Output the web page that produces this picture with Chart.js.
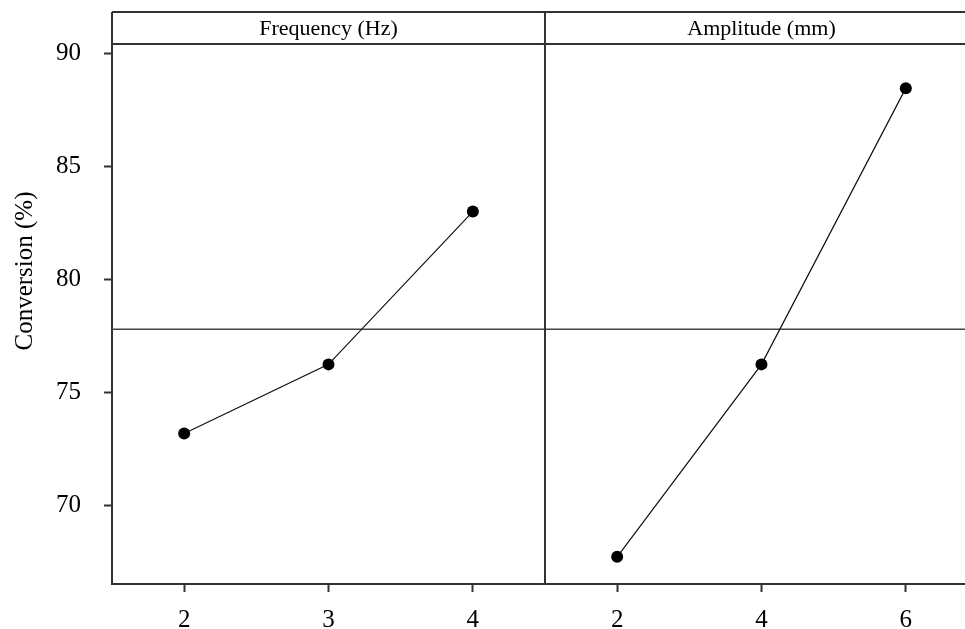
<!DOCTYPE html>
<html>
<head>
<meta charset="utf-8">
<script src="https://cdn.jsdelivr.net/npm/chart.js@4.4.1/dist/chart.umd.min.js"></script>
<style>
  html, body { margin: 0; background: #fff; overflow: hidden; }
  canvas { display: block; }
</style>
</head>
<body>
<canvas id="effects" width="965" height="629"></canvas>
<script>
// main effects for conversion
const panelTitles = ["Frequency (Hz)", "Amplitude (mm)"];
const freqLevels = ["2", "3", "4"];
const ampLevels = ["2", "4", "6"];
const freqMeans = [73.2, 76.25, 83.0];
const ampMeans = [67.75, 76.25, 88.45];
const grandMean = 77.8;
const yTicks = [70, 75, 80, 85, 90];
const yTitle = "Conversion (%)";

const serif = "'Liberation Serif', 'Times New Roman', serif";
const frameColor = "#333";
const xLabels = freqLevels.concat(ampLevels);

const panelFrame = {
  id: "panelFrame",
  beforeDatasetsDraw(chart) {
    const { ctx, chartArea: a, scales: { y } } = chart;
    const ym = y.getPixelForValue(grandMean);
    ctx.save();
    ctx.strokeStyle = "#444";
    ctx.lineWidth = 1.5;
    ctx.beginPath();
    ctx.moveTo(a.left, ym);
    ctx.lineTo(a.right, ym);
    ctx.stroke();
    ctx.restore();
  },
  afterDraw(chart) {
    const { ctx, chartArea: a, scales: { x } } = chart;
    const stripTop = 12;
    const split = x.getPixelForValue(freqLevels.length - 0.5);
    ctx.save();
    ctx.strokeStyle = frameColor;
    ctx.lineWidth = 2;
    ctx.beginPath();
    ctx.moveTo(a.left, stripTop);
    ctx.lineTo(a.right, stripTop);
    ctx.moveTo(a.left, a.top);
    ctx.lineTo(a.right, a.top);
    ctx.moveTo(a.left, stripTop);
    ctx.lineTo(a.left, a.top);
    ctx.moveTo(split, stripTop);
    ctx.lineTo(split, a.bottom);
    ctx.stroke();

    // strip labels
    ctx.fillStyle = "#000";
    ctx.font = "22px " + serif;
    ctx.textAlign = "center";
    ctx.textBaseline = "middle";
    ctx.fillText(panelTitles[0], x.getPixelForValue(1), (stripTop + a.top) / 2 + 1);
    ctx.fillText(panelTitles[1], x.getPixelForValue(freqLevels.length + 1), (stripTop + a.top) / 2 + 1);

    // y axis title
    ctx.font = "25px " + serif;
    ctx.translate(25, 271);
    ctx.rotate(-Math.PI / 2);
    ctx.fillText(yTitle, 0, 0);
    ctx.restore();
  }
};

const axisStyle = {
  grid: { drawOnChartArea: false, drawTicks: true, tickLength: 8, tickColor: frameColor, tickWidth: 2 },
  border: { display: true, color: frameColor, width: 2 }
};

new Chart(document.getElementById("effects"), {
  type: "line",
  data: {
    datasets: [
      { data: freqMeans.map((v, i) => ({ x: i, y: v })) },
      { data: ampMeans.map((v, i) => ({ x: i + freqLevels.length, y: v })) }
    ]
  },
  options: {
    responsive: false,
    animation: false,
    devicePixelRatio: 1,
    layout: { autoPadding: false, padding: { top: 44, right: 0, left: 0, bottom: 0 } },
    elements: {
      line: { borderColor: "#111", borderWidth: 1.2, tension: 0 },
      point: { radius: 6, backgroundColor: "#000", borderWidth: 0 }
    },
    plugins: { legend: { display: false }, tooltip: { enabled: false } },
    scales: {
      x: {
        type: "linear",
        min: -0.5,
        max: 5.41,
        afterBuildTicks: s => { s.ticks = xLabels.map((_, i) => ({ value: i })); },
        afterFit: s => { s.height = 45; s.paddingLeft = 0; s.paddingRight = 0; },
        ticks: {
          callback: v => xLabels[v],
          font: { family: serif, size: 25 },
          color: "#000",
          padding: 13,
          maxRotation: 0,
          autoSkip: false
        },
        ...axisStyle
      },
      y: {
        min: 66.55,
        max: 90.4,
        afterBuildTicks: s => { s.ticks = yTicks.map(v => ({ value: v })); },
        afterFit: s => { s.width = 112; },
        ticks: {
          font: { family: serif, size: 25 },
          color: "#000",
          padding: 23
        },
        ...axisStyle
      }
    }
  },
  plugins: [panelFrame]
});
</script>
</body>
</html>
